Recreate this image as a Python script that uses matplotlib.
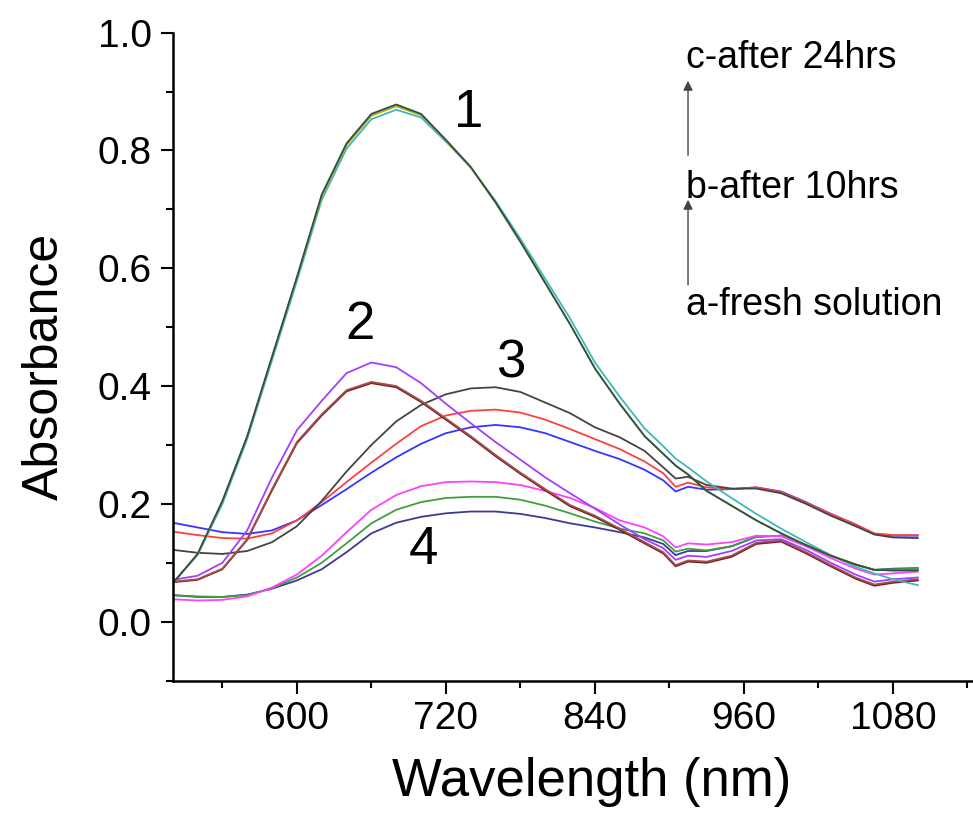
import matplotlib
matplotlib.use("Agg")
import matplotlib.pyplot as plt
from matplotlib.ticker import MultipleLocator

plt.rcParams['font.family'] = ['Liberation Sans', 'DejaVu Sans']

# wavelength grid (nm) the values were read at
wavelength = [500, 520, 540, 560, 580, 600, 620, 640, 660, 680, 700, 720, 740, 760, 780, 800,
              820, 840, 860, 880, 895, 905, 915, 930, 950, 970, 990, 1010, 1030, 1050, 1065, 1080, 1100]

# group 1
g1_dark = [0.065, 0.115, 0.205, 0.315, 0.45, 0.585, 0.725, 0.812, 0.862, 0.878, 0.862, 0.818, 0.772, 0.712, 0.645, 0.575,
           0.505, 0.43, 0.37, 0.315, 0.285, 0.265, 0.25, 0.222, 0.197, 0.172, 0.15, 0.13, 0.112, 0.097, 0.088, 0.087, 0.087]
g1_olive = [0.065, 0.114, 0.204, 0.314, 0.449, 0.583, 0.722, 0.809, 0.859, 0.875, 0.86, 0.817, 0.771, 0.711, 0.645, 0.575,
            0.505, 0.43, 0.37, 0.315, 0.285, 0.265, 0.25, 0.222, 0.197, 0.172, 0.15, 0.13, 0.112, 0.097, 0.088, 0.087, 0.087]
g1_cyan = [0.066, 0.113, 0.2, 0.31, 0.444, 0.578, 0.716, 0.803, 0.853, 0.869, 0.856, 0.815, 0.771, 0.714, 0.65, 0.582,
           0.515, 0.44, 0.382, 0.328, 0.298, 0.277, 0.262, 0.238, 0.21, 0.183, 0.158, 0.135, 0.113, 0.093, 0.082, 0.072, 0.062]

# group 2
g2_purple = [0.071, 0.078, 0.1, 0.155, 0.245, 0.325, 0.375, 0.422, 0.44, 0.432, 0.405, 0.37, 0.337, 0.305, 0.275, 0.245,
             0.218, 0.192, 0.165, 0.14, 0.125, 0.105, 0.112, 0.11, 0.12, 0.138, 0.14, 0.122, 0.1, 0.08, 0.068, 0.072, 0.075]
g2_brown = [0.068, 0.072, 0.09, 0.14, 0.225, 0.305, 0.352, 0.393, 0.407, 0.4, 0.375, 0.345, 0.315, 0.283, 0.253, 0.225,
            0.198, 0.18, 0.158, 0.135, 0.118, 0.096, 0.104, 0.102, 0.112, 0.134, 0.138, 0.118, 0.096, 0.075, 0.063, 0.068, 0.072]
g2_maroon = [0.067, 0.071, 0.089, 0.139, 0.223, 0.303, 0.35, 0.391, 0.405, 0.398, 0.373, 0.343, 0.313, 0.281, 0.251, 0.223,
             0.196, 0.178, 0.156, 0.133, 0.116, 0.094, 0.102, 0.1, 0.11, 0.132, 0.136, 0.116, 0.094, 0.073, 0.061, 0.066, 0.07]

# group 3
g3_black = [0.122, 0.117, 0.115, 0.12, 0.135, 0.162, 0.205, 0.255, 0.3, 0.34, 0.368, 0.386, 0.396, 0.398, 0.39, 0.372,
            0.354, 0.33, 0.313, 0.29, 0.262, 0.243, 0.246, 0.232, 0.226, 0.226, 0.218, 0.2, 0.18, 0.162, 0.148, 0.143, 0.142]
g3_red = [0.153, 0.147, 0.142, 0.141, 0.15, 0.172, 0.203, 0.237, 0.27, 0.302, 0.332, 0.35, 0.358, 0.36, 0.355, 0.343,
          0.327, 0.31, 0.293, 0.272, 0.252, 0.229, 0.236, 0.228, 0.225, 0.228, 0.22, 0.202, 0.183, 0.165, 0.15, 0.147, 0.147]
g3_blue = [0.168, 0.16, 0.152, 0.149, 0.155, 0.172, 0.198, 0.225, 0.253, 0.279, 0.302, 0.32, 0.33, 0.334, 0.33, 0.32,
           0.305, 0.29, 0.276, 0.258, 0.24, 0.221, 0.229, 0.224, 0.225, 0.228, 0.221, 0.203, 0.183, 0.165, 0.149, 0.146, 0.146]

# group 4
g4_magenta = [0.038, 0.036, 0.037, 0.043, 0.058, 0.08, 0.112, 0.152, 0.19, 0.215, 0.23, 0.237, 0.238, 0.237, 0.232, 0.222,
              0.21, 0.193, 0.172, 0.16, 0.145, 0.126, 0.133, 0.131, 0.135, 0.146, 0.145, 0.128, 0.108, 0.09, 0.08, 0.082, 0.085]
g4_green = [0.045, 0.043, 0.042, 0.045, 0.057, 0.075, 0.1, 0.133, 0.167, 0.19, 0.203, 0.21, 0.212, 0.212, 0.207, 0.197,
            0.184, 0.17, 0.158, 0.15, 0.138, 0.119, 0.124, 0.121, 0.128, 0.144, 0.146, 0.13, 0.112, 0.097, 0.088, 0.089, 0.09]
g4_navy = [0.045, 0.042, 0.042, 0.046, 0.056, 0.07, 0.089, 0.118, 0.15, 0.168, 0.178, 0.184, 0.187, 0.187, 0.183, 0.176,
           0.167, 0.16, 0.152, 0.143, 0.132, 0.113, 0.12, 0.12, 0.128, 0.144, 0.146, 0.13, 0.112, 0.097, 0.088, 0.09, 0.091]

series = [
    (g4_navy, '#3a3a9a'), (g4_green, '#3f9f3f'), (g4_magenta, '#ff40ff'),
    (g3_blue, '#3535ff'), (g3_red, '#ff4040'), (g3_black, '#444444'),
    (g2_maroon, '#7a1a1a'), (g2_brown, '#a05050'), (g2_purple, '#a040ff'),
    (g1_cyan, '#40b8b8'), (g1_olive, '#b0b000'), (g1_dark, '#2f4f4f'),
]

curve_labels = ['1', '2', '3', '4']
curve_label_pos = [(738, 0.863), (651, 0.504), (772, 0.439), (702, 0.122)]

time_labels = ['c-after 24hrs', 'b-after 10hrs', 'a-fresh solution']
time_label_y = [0.957, 0.736, 0.538]

fig = plt.figure(figsize=(9.73, 8.3), dpi=100)
ax = fig.add_axes([0.1775, 0.18, 0.8225, 0.7807])

for vals, col in series:
    ax.plot(wavelength, vals, color=col, lw=1.3, solid_joinstyle='round')

ax.set_xlim(500, 1144.5)
ax.set_ylim(-0.1, 1.0)
ax.xaxis.set_major_locator(MultipleLocator(120))
ax.xaxis.set_minor_locator(MultipleLocator(60))
ax.yaxis.set_major_locator(MultipleLocator(0.2))
ax.yaxis.set_minor_locator(MultipleLocator(0.1))
ax.set_xticks([600, 720, 840, 960, 1080])
ax.yaxis.set_major_formatter(plt.FuncFormatter(lambda v, p: '%.1f' % v))

ax.spines['top'].set_visible(False)
ax.spines['right'].set_visible(False)
for s in ['left', 'bottom']:
    ax.spines[s].set_linewidth(1.8)
ax.tick_params(which='major', direction='out', length=9, width=1.5, labelsize=28, pad=6)
ax.tick_params(which='minor', direction='out', length=5, width=1.5)

ax.set_xlabel('Wavelength (nm)', fontsize=38)
ax.xaxis.set_label_coords(0.524, -0.118)
ax.set_ylabel('Absorbance', fontsize=36)
ax.yaxis.set_label_coords(-0.131, 0.485)

for lab, (x, y) in zip(curve_labels, curve_label_pos):
    ax.text(x, y, lab, fontsize=38, ha='center', va='center')

for lab, y in zip(time_labels, time_label_y):
    ax.text(913, y, lab, fontsize=27, ha='left', va='center')

# arrows between the time labels
ax.annotate('', xy=(915, 0.923), xytext=(915, 0.787),
            arrowprops=dict(arrowstyle='-|>', color='#444444', lw=1.0, mutation_scale=14))
ax.annotate('', xy=(915, 0.721), xytext=(915, 0.567),
            arrowprops=dict(arrowstyle='-|>', color='#444444', lw=1.0, mutation_scale=14))

fig.savefig('out.png', dpi=100)
